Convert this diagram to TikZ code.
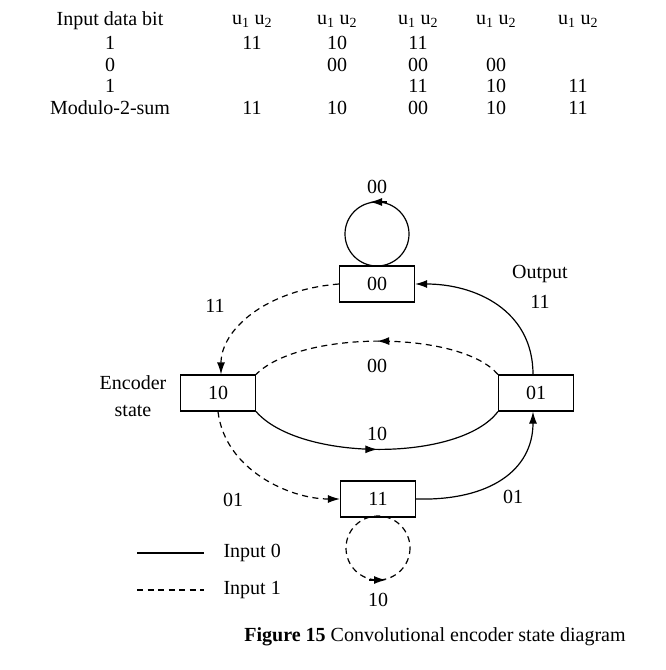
\documentclass[tikz,border=0pt]{standalone}
\usepackage{fontspec}
\setmainfont{Liberation Serif}
\usetikzlibrary{arrows.meta,decorations.markings}
\begin{document}
\begin{tikzpicture}[x=1pt,y=-1pt,font=\fontsize{20}{24}\selectfont,
  st/.style={draw,line width=1.2pt,minimum width=75pt,minimum height=36pt,inner sep=0},
  ln/.style={line width=1.2pt},
  dsh/.style={ln,dash pattern=on 6pt off 4.5pt},
  tip/.style={-{Latex[length=12pt,width=8pt]}},
  midarrow/.style={postaction={decorate,decoration={markings,mark=at position 0.5 with {\arrow{Latex[length=12pt,width=8pt]}}}}}]
\useasboundingbox (0,0) rectangle (665,670);
% table
\foreach \t/\x/\y in {Input data bit/110/21,1/110/43,0/110/65,1/110/86,Modulo-2-sum/110/108}
  \node (t\x\y) at (\x,\y) {\t};
\foreach \x in {252,337,418,496,578}
  \node (h\x) at (\x,21) {u\textsubscript{1} u\textsubscript{2}};
\foreach \t/\x/\y in {11/252/43,10/337/43,11/418/43,00/337/65,00/418/65,00/496/65,11/418/86,10/496/86,11/578/86,11/252/108,10/337/108,00/418/108,10/496/108,11/578/108}
  \node (d\x\y) at (\x,\y) {\t};
% states
\node[st] (s00) at (377,284) {00};
\node[st] (s10) at (218,393) {10};
\node[st] (s01) at (536,393) {01};
\node[st] (s11) at (378,499) {11};
% loops
\coordinate (c1) at (377,234);
\draw[ln] (c1) circle (32);
\draw[ln,-{Latex[length=12pt,width=8pt]}] (387,202) -- (370,202);
\coordinate (c2) at (378,548);
\draw[dsh] (c2) circle (32);
\draw[ln,-{Latex[length=12pt,width=8pt]}] (369,580) -- (386,580);
% edges
\draw[dsh,tip] (s00.west) .. controls (265,290) and (221,330) .. ([xshift=3pt]s10.north);
\draw[ln,tip] ([xshift=-3pt]s01.north) .. controls (533,310) and (475,284) .. (s00.east);
\draw[dsh,midarrow] (s01.north west) .. controls (460,330) and (300,330) .. (s10.north east);
\draw[ln,midarrow] (s10.south east) .. controls (300,462) and (460,462) .. (s01.south west);
\draw[dsh,tip] (s10.south) .. controls (225,470) and (290,499) .. (s11.west);
\draw[ln,tip] (s11.east) .. controls (490,501) and (533,470) .. ([xshift=-3pt]s01.south);
% labels
\node (l1) at (377,187) {00};
\node (l2) at (378,600) {10};
\node (l3) at (215,306) {11};
\node (l4) at (540,274) {Output};
\node (l5) at (540,302) {11};
\node (l6) at (377,366) {00};
\node (l7) at (377,434) {10};
\node (l8) at (233,500) {01};
\node (l9) at (513,497) {01};
\node (l10) at (133,383) {Encoder};
\node (l11) at (133,411) {state};
% legend
\coordinate (a1) at (137,553); \coordinate (a2) at (204,553);
\coordinate (b1) at (137,590); \coordinate (b2) at (204,590);
\draw[ln] (a1) -- (a2);
\draw[dsh] (b1) -- (b2);
\node[anchor=west] (g1) at (220,553) {Input 0};
\node[anchor=west] (g2) at (220,590) {Input 1};
% caption
\node (cap) at (435,637) {\fontsize{20}{24}\selectfont\textbf{Figure 15} Convolutional encoder state diagram};
\end{tikzpicture}
\end{document}
